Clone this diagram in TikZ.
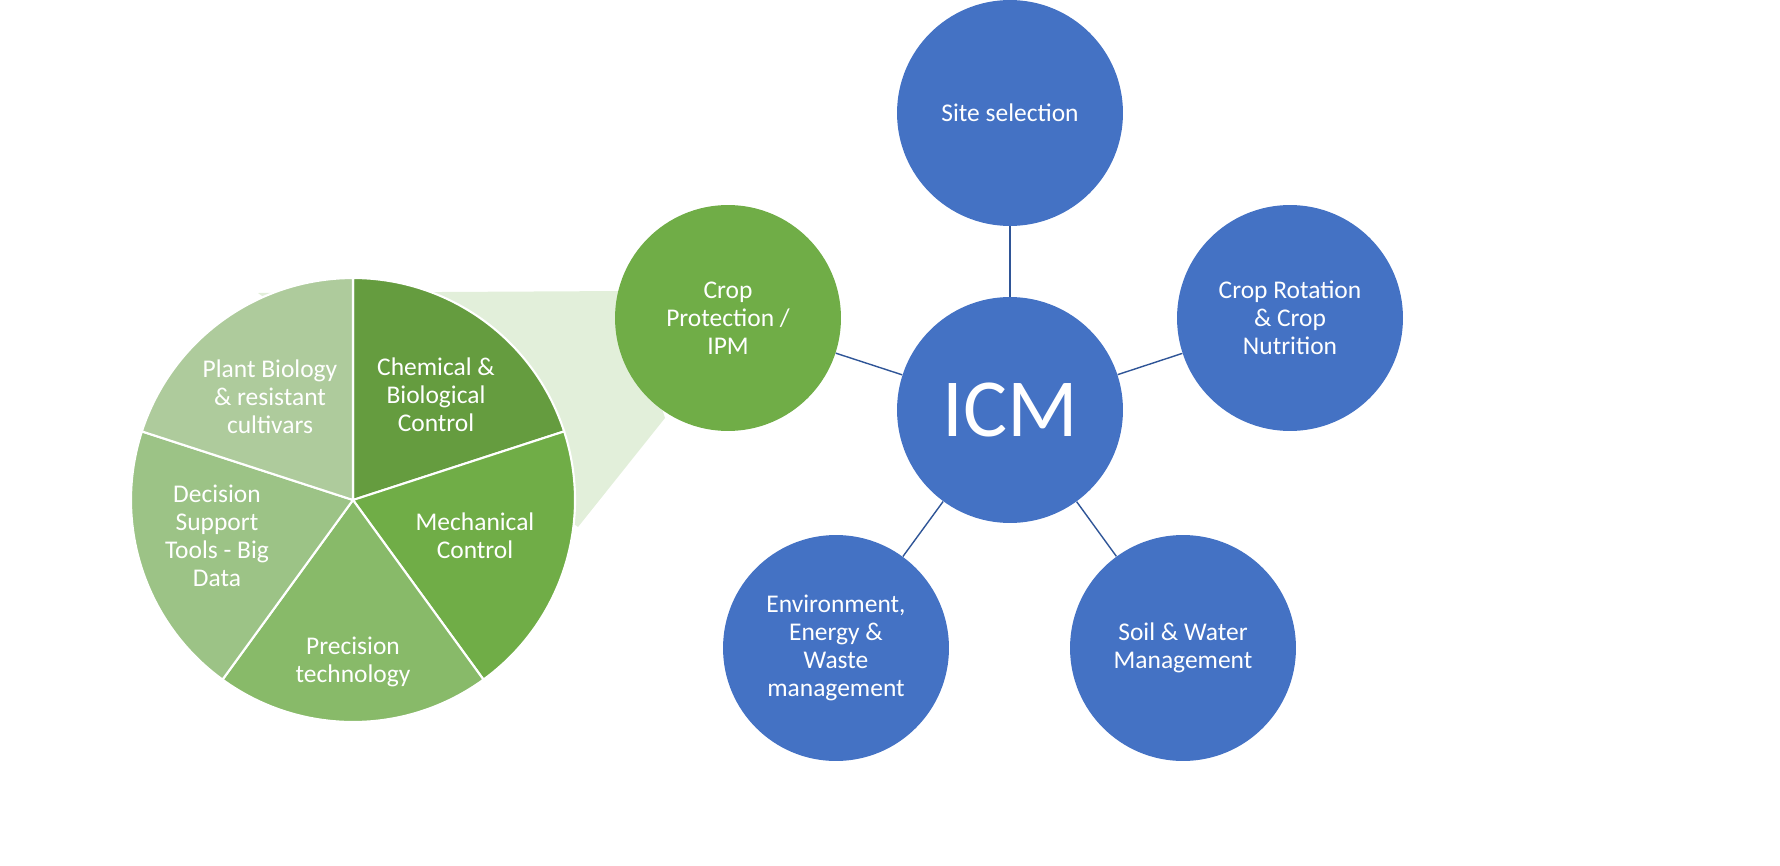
\documentclass[tikz,border=0pt]{standalone}
\usepackage{fontspec}
\setmainfont{Carlito}
\definecolor{icmblue}{HTML}{4472C4}
\definecolor{linkblue}{HTML}{2F5597}
\definecolor{ipmgreen}{HTML}{70AD47}
\definecolor{zoomgreen}{HTML}{E2EFDA}
\definecolor{sliceA}{HTML}{659C3F}
\definecolor{sliceB}{HTML}{70AD47}
\definecolor{sliceC}{HTML}{88BA69}
\definecolor{sliceD}{HTML}{9CC386}
\definecolor{sliceE}{HTML}{AECB9C}
\begin{document}
\begin{tikzpicture}[x=0.02cm,y=-0.02cm,
  bubble/.style={circle, fill=icmblue, text=white, minimum size=4.52cm, inner sep=0pt,
    align=center, font=\fontsize{14.5}{16}\selectfont},
  link/.style={draw=linkblue, line width=0.8pt},
  slicetext/.style={text=white, align=center, font=\fontsize{14.5}{16}\selectfont}]

	%% Frame of the picture
	\useasboundingbox (0,0) rectangle (1780,865);

	%% The zoom wedge behind the pie
	\fill[zoomgreen] (258,293) -- (625,291) -- (665,418) -- (578,527) -- cycle;

	%% The pie: five slices of 72 degrees, clockwise from the top
	\foreach \a/\c in {90/sliceA, 18/sliceB, -54/sliceC, -126/sliceD, 162/sliceE}{%
		\fill[\c, draw=white, line width=1.2pt] (353,500) -- ++(\a:222*0.02cm) arc[start angle=\a, delta angle=-72, radius=4.44cm] -- cycle;
	}
	\node[slicetext] (chem) at (436,395) {Chemical \&\\Biological\\Control};
	\node[slicetext] (mech) at (475,536) {Mechanical\\Control};
	\node[slicetext] (prec) at (353,662) {Precision\\technology};
	\node[slicetext] (dss) at (217,536) {Decision\\Support\\Tools - Big\\Data};
	\node[slicetext] (plant) at (270,397) {Plant Biology\\\& resistant\\cultivars};

	%% The ICM hub and its spokes
	\node[bubble, font=\fontsize{47}{52}\selectfont] (icm) at (1010,410) {ICM};
	\node[bubble] (site) at (1010,113) {Site selection};
	\node[bubble] (rot) at (1290,318) {Crop Rotation\\\& Crop\\Nutrition};
	\node[bubble] (soil) at (1183,648) {Soil \& Water\\Management};
	\node[bubble] (env) at (836,648) {Environment,\\Energy \&\\Waste\\management};
	\node[bubble, fill=ipmgreen] (ipm) at (728,318) {Crop\\Protection /\\IPM};

	\foreach \n in {site, rot, soil, env, ipm}{%
		\draw[link] (icm) -- (\n);
	}

\end{tikzpicture}
\end{document}
